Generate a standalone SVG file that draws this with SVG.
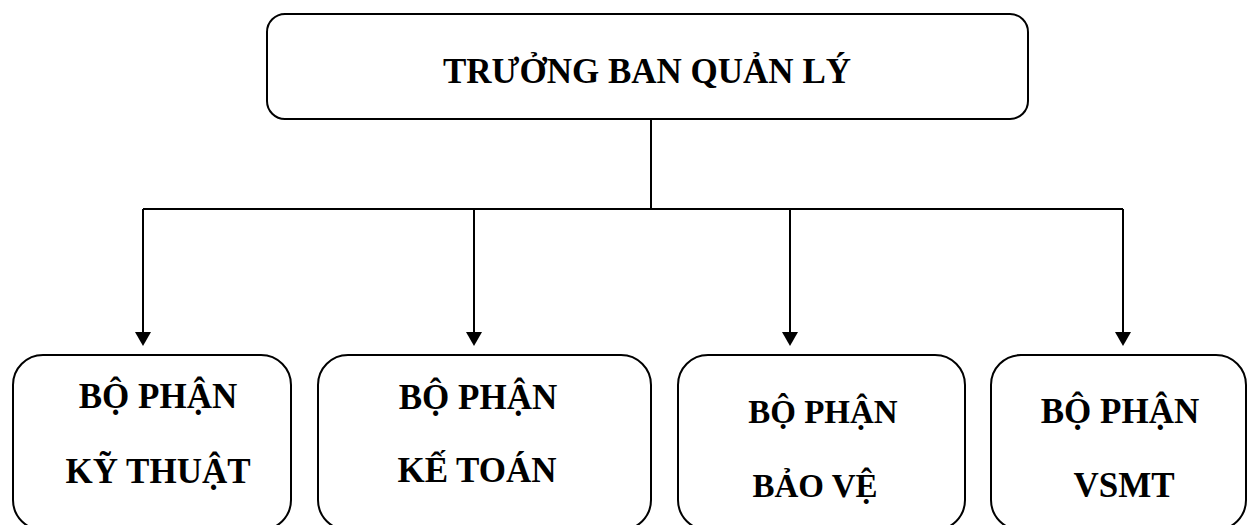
<svg xmlns="http://www.w3.org/2000/svg" width="1249" height="525" viewBox="0 0 1249 525">
<defs>
<style>
.box{fill:#fff;stroke:#000;stroke-width:2}
.t{font-family:"Liberation Serif","Times New Roman",serif;font-weight:bold;font-size:35px;fill:#000;text-anchor:middle}
.c{fill:none;stroke:#000;stroke-width:2}
</style>
<marker id="ah" viewBox="0 0 16 15" refX="8" refY="15" markerWidth="16" markerHeight="15" markerUnits="userSpaceOnUse" orient="auto-start-reverse">
<path d="M0,0 L16,0 L8,15 Z" fill="#000"/>
</marker>
</defs>
<rect width="1249" height="525" fill="#fff"/>
<g id="connectors">
<line class="c" x1="651" y1="119" x2="651" y2="209"/>
<line class="c" x1="143" y1="209" x2="1123" y2="209"/>
<path class="c" d="M143,209 V332"/>
<path d="M135,332 L151,332 L143,346 Z" fill="#000"/>
<path class="c" d="M474,209 V332"/>
<path d="M466,332 L482,332 L474,346 Z" fill="#000"/>
<path class="c" d="M790,209 V332"/>
<path d="M782,332 L798,332 L790,346 Z" fill="#000"/>
<path class="c" d="M1123,209 V332"/>
<path d="M1115,332 L1131,332 L1123,346 Z" fill="#000"/>
</g>
<g id="truong-ban">
<rect class="box" x="267" y="14" width="761" height="105" rx="18"/>
<text class="t" x="647" y="83">TRƯỞNG BAN QUẢN LÝ</text>
</g>
<g id="ky-thuat">
<rect class="box" x="13" y="355" width="278" height="175" rx="30"/>
<text class="t" x="158" y="408">BỘ PHẬN</text>
<text class="t" x="158" y="483">KỸ THUẬT</text>
</g>
<g id="ke-toan">
<rect class="box" x="318" y="355" width="333" height="175" rx="30"/>
<text class="t" x="478" y="409">BỘ PHẬN</text>
<text class="t" x="477" y="482">KẾ TOÁN</text>
</g>
<g id="bao-ve">
<rect class="box" x="678" y="355" width="287" height="175" rx="30"/>
<text class="t" x="823" y="423" style="font-size:33px">BỘ PHẬN</text>
<text class="t" x="815" y="497" style="font-size:33px">BẢO VỆ</text>
</g>
<g id="vsmt">
<rect class="box" x="991" y="355" width="255" height="175" rx="30"/>
<text class="t" x="1120" y="423">BỘ PHẬN</text>
<text class="t" x="1124" y="497">VSMT</text>
</g>
</svg>
